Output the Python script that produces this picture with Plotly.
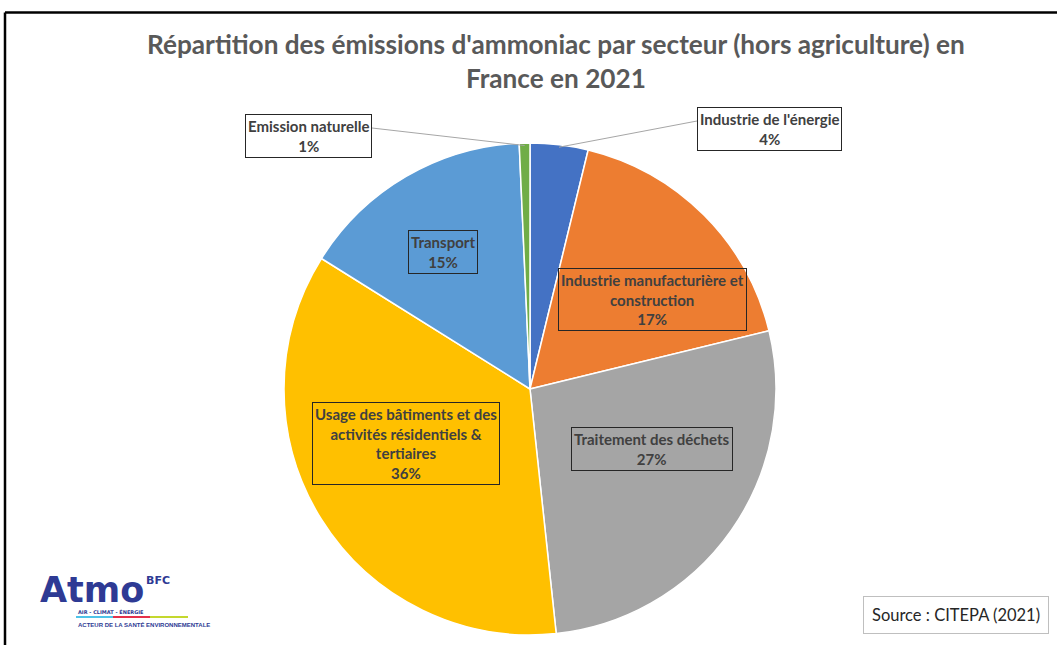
import math
import plotly.graph_objects as go

# Données (CITEPA 2021) - ordre horaire depuis le haut
secteurs = ["Industrie de l'énergie", "Industrie manufacturière et construction",
            "Traitement des déchets",
            "Usage des bâtiments et des activités résidentiels & tertiaires",
            "Transport", "Emission naturelle"]
parts = [3.8, 17.4, 27.1, 35.6, 15.4, 0.7]
couleurs = ["#4472C4", "#ED7D31", "#A5A5A5", "#FFC000", "#5B9BD5", "#70AD47"]
etiquettes = ["Industrie de l'énergie", "Industrie manufacturière et<br>construction",
              "Traitement des déchets",
              "Usage des bâtiments et des<br>activités résidentiels &<br>tertiaires",
              "Transport", "Emission naturelle"]

W, H = 1057, 645
cx, cy, R = 530, 389, 246  # centre et rayon du camembert en pixels

fig = go.Figure()
fig.add_trace(go.Pie(
    labels=secteurs, values=parts, sort=False, direction="clockwise", rotation=0,
    marker=dict(colors=couleurs, line=dict(color="white", width=1.5)),
    textinfo="none", hoverinfo="label+percent", showlegend=False,
    domain=dict(x=[(cx - R) / W, (cx + R) / W], y=[(H - cy - R) / H, (H - cy + R) / H]),
))

# positions des boîtes d'étiquettes (pixels) ; la première et la dernière ont une ligne de rappel
pos_etiq = [(770, 129), (652, 299), (652, 449), (406, 443), (443, 252), (308, 136)]
rappel = [(697, 121), None, None, None, None, (372, 128)]
fond = ["white", None, None, None, None, "white"]

tot = sum(parts)
cum = 0
for i, v in enumerate(parts):
    mid = (cum + v / 2) / tot * 2 * math.pi
    cum += v
    pct = f"{round(v / tot * 100)}%"
    px, py = pos_etiq[i]
    if rappel[i] is not None:
        ex = cx + 0.99 * R * math.sin(mid)
        ey = cy - 0.99 * R * math.cos(mid)
        bx, by = rappel[i]
        fig.add_shape(type="line", xref="paper", yref="paper",
                      x0=ex / W, y0=1 - ey / H, x1=bx / W, y1=1 - by / H,
                      line=dict(color="#A6A6A6", width=1))
    fig.add_annotation(
        x=px / W, y=1 - py / H, xref="paper", yref="paper", showarrow=False,
        xanchor="center", yanchor="middle",
        text=f"<b>{etiquettes[i]}<br>{pct}</b>",
        font=dict(family="Lato, sans-serif", size=15, color="#404040"),
        bordercolor="#262626", borderwidth=1, borderpad=2,
        bgcolor=fond[i] or "rgba(0,0,0,0)",
    )

# titre
fig.add_annotation(x=556 / W, y=1 - 61 / H, xref="paper", yref="paper", showarrow=False,
                   xanchor="center", yanchor="middle",
                   text="<b>Répartition des émissions d'ammoniac par secteur (hors agriculture) en<br>France en 2021</b>",
                   font=dict(family="Lato, sans-serif", size=26.2, color="#595959"))

# source
fig.add_annotation(x=956 / W, y=1 - 615 / H, xref="paper", yref="paper", showarrow=False,
                   xanchor="center", yanchor="middle",
                   text="Source : CITEPA (2021)", font=dict(family="Lato, sans-serif", size=16.5, color="#262626"),
                   bordercolor="#BFBFBF", borderwidth=1, borderpad=8, bgcolor="white")

# logo Atmo BFC
fig.add_annotation(x=38 / W, y=1 - 590 / H, xref="paper", yref="paper", xanchor="left", yanchor="middle",
                   showarrow=False, text="<b>Atmo</b>",
                   font=dict(family="DejaVu Sans, sans-serif", size=35, color="#2E3A94"))
fig.add_annotation(x=144 / W, y=1 - 580 / H, xref="paper", yref="paper", xanchor="left", yanchor="middle",
                   showarrow=False, text="<b>BFC</b>",
                   font=dict(family="DejaVu Sans, sans-serif", size=11, color="#2E3A94"))
fig.add_annotation(x=76 / W, y=1 - 612 / H, xref="paper", yref="paper", xanchor="left", yanchor="middle",
                   showarrow=False, text="<b>AIR - CLIMAT - ÉNERGIE</b>",
                   font=dict(family="DejaVu Sans, sans-serif", size=5, color="#2E3A94"))
for x0, x1, c in [(76, 113, "#4FC3E8"), (113, 150, "#E5304A"), (150, 188, "#C4D82E")]:
    fig.add_shape(type="line", xref="paper", yref="paper", x0=x0 / W, x1=x1 / W,
                  y0=1 - 617 / H, y1=1 - 617 / H, line=dict(color=c, width=2))
fig.add_annotation(x=76 / W, y=1 - 624 / H, xref="paper", yref="paper", xanchor="left", yanchor="middle",
                   showarrow=False, text="<b>ACTEUR DE LA SANTÉ ENVIRONNEMENTALE</b>",
                   font=dict(family="Liberation Sans Narrow, Liberation Sans, sans-serif", size=6, color="#2E3A94"))

# cadre
fig.add_shape(type="line", xref="paper", yref="paper", x0=5 / W, x1=1, y0=1 - 12.5 / H, y1=1 - 12.5 / H,
              line=dict(color="black", width=2.5))
fig.add_shape(type="line", xref="paper", yref="paper", x0=5 / W, x1=5 / W, y0=0, y1=1 - 12.5 / H,
              line=dict(color="black", width=2.5))

fig.update_layout(
    width=W, height=H, margin=dict(l=0, r=0, t=0, b=0),
    paper_bgcolor="white", plot_bgcolor="white",
)

fig.write_html("out.html", config={"displayModeBar": False},
               post_script="document.body.style.margin='0';")
